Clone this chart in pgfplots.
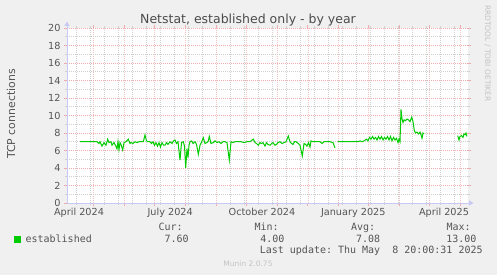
\documentclass[border=0pt]{standalone}
\usepackage{fontspec}
\setmainfont{DejaVu Sans}
\setmonofont{DejaVu Sans Mono}
\usepackage{pgfplots}
\pgfplotsset{compat=1.18}
\usetikzlibrary{arrows.meta}
\definecolor{bg}{RGB}{240,240,240}
\definecolor{mgrid}{RGB}{238,172,172}
\definecolor{mgridx}{RGB}{245,195,195}
\definecolor{sgrid}{RGB}{208,208,208}
\definecolor{axiscol}{RGB}{200,200,245}
\definecolor{txt}{RGB}{85,85,85}
\definecolor{titlecol}{RGB}{75,75,75}
\definecolor{faint}{RGB}{195,195,195}
\definecolor{series}{RGB}{0,204,0}

\pgfplotstableread{
x y
80 7.0
97 7.0
99 6.8
100 7.0
102 6.5
104 6.9
106 6.6
107.7 7.3
109 6.9
111 7.0
112 6.6
114 6.9
115 6.7
117 6.2
118 7.0
119 6.1
120 6.9
121 6.7
122.7 6.05
124 6.9
126 7.0
128.3 7.3
130 6.8
131 6.9
133 6.8
135 7.0
137 6.9
139 7.0
143.3 7.0
145 7.77
146.5 7.1
148 7.0
150 7.0
151.5 6.8
153 7.0
154.5 6.6
156 6.9
157.5 6.5
159 6.9
160.5 6.4
162 6.9
163.5 6.6
165 6.6
166.5 6.9
168 6.7
170 7.0
172 6.8
173.5 7.1
175 7.2
176.5 6.8
178 7.0
180 4.9
181.5 6.9
183.3 7.0
184.5 6.5
185.7 4.03
187 6.2
188 5.2
189 6.6
190 7.0
191.7 7.1
193 6.8
195 7.0
196.5 6.7
198.3 5.56
200 6.6
201.7 7.0
203.3 7.46
205 6.8
206.7 6.9
208 7.0
209.3 7.6
211 6.8
213.3 6.9
215 7.1
217 6.9
219 7.0
221 6.8
223 7.0
225 7.0
227 6.9
229.3 4.9
231 7.0
233 6.9
235 7.0
238 7.0
241 7.0
244 6.9
247 7.0
250 7.0
253.3 7.3
255 6.9
256.5 6.8
258.3 6.6
260 6.9
261.5 6.8
263 6.9
265 6.5
266.5 6.9
268 6.7
270 6.6
271.7 6.8
273 6.9
275 6.6
276.5 6.7
278 6.9
280 7.0
282 6.8
284 6.9
286 7.0
288.3 7.66
290 7.0
291.5 6.8
293 6.7
294.5 7.0
296 7.0
298.3 6.8
300 6.6
302.3 5.37
304 6.8
305.5 6.7
307 6.5
308.5 6.9
310 6.4
311 7.1
313 7.0
315 7.0
318 7.0
320 7.0
322 6.8
324 7.0
327 7.0
330 7.0
333 6.9
335 6.3
336 nan
337.7 7.0
345 7.0
352 7.0
358 7.0
360 7.1
362 7.0
364 7.1
366.7 7.3
368 7.1
369.5 7.5
371 7.3
372.5 7.6
374 7.3
375.5 7.5
377 7.2
378.5 7.6
380 7.3
381.5 7.6
383 7.2
384.5 7.5
386 7.3
387.5 7.6
389 7.2
390.5 7.6
392 7.1
393.5 7.5
395 7.2
396.5 7.4
398 6.9
399 7.3
400 7.0
401 10.7
402 9.6
403 9.2
404 9.5
405.5 9.4
407 9.6
408.5 9.5
410 9.3
411.7 9.8
413 9.3
414.3 8.3
415.5 8.0
417 8.1
418.5 7.9
420 8.1
421 7.8
422 7.4
423 8.0
424 7.9
425 nan
457.7 7.7
459 7.2
460 7.6
461.5 7.7
463 7.5
464 7.9
465 7.8
466 8.0
467 7.6
}\established

\begin{document}
\begin{tikzpicture}[x=1pt,y=1pt]
\fill[bg] (0,0) rectangle (497,275);
\path[use as bounding box] (0,0) rectangle (497,275);
\begin{axis}[
  at={(67pt,72pt)}, anchor=south west,
  scale only axis, width=401pt, height=175pt,
  xmin=67, xmax=468, ymin=0, ymax=20,
  axis line style={draw=none},
  axis background/.style={fill=white},
  xtick={93.3,124.3,154.6,185.3,216,246.7,277.3,307.8,338,368.5,399.5,429.5,460},
  xticklabels={},
  minor xtick={76,90,104,118,132,146,160,174,188,202,230,244,258,272,286,300,314,328,342,356,370,384,398,412,426,440,454},
  extra x ticks={79,170.2,262,353.3,444},
  extra x tick labels={April 2024,July 2024,October 2024,January 2025,April 2025},
  extra x tick style={grid=none, major tick length=0pt, xticklabel style={yshift=-1.5pt}},
  ytick={0,2,...,20},
  minor ytick={1,3,...,19},
  grid=both,
  major grid style={mgrid, dash pattern=on 0.8pt off 1.2pt, line width=0.7pt},
  major x grid style={mgridx, dash pattern=on 0.8pt off 1.2pt, line width=0.6pt},
  minor grid style={sgrid, dash pattern=on 0.8pt off 1.2pt, line width=0.7pt},
  tick align=outside,
  major tick length=3pt, minor tick length=2pt,
  major tick style={mgrid, line width=0.7pt},
  minor tick style={sgrid, line width=0.7pt},
  ticklabel style={font=\fontsize{9.7}{11}\selectfont, text=txt},
  /pgf/number format/assume math mode=true,
]
\addplot[series, line width=1pt, unbounded coords=jump, mark=none] table[x=x, y=y] {\established};
\end{axis}
% axes with arrows
\draw[axiscol, line width=0.8pt, -{Triangle[length=4.5pt,width=5pt]}] (67,72) -- (473.5,72);
\draw[axiscol, line width=0.8pt, -{Triangle[length=4.5pt,width=5pt]}] (67,72) -- (67,253.5);
% title
\node[anchor=base, inner sep=0pt, font=\fontsize{12.5}{14}\selectfont, text=titlecol] at (248,251) {Netstat, established only - by year};
% y label
\node[rotate=90, anchor=base, inner sep=0pt, font=\fontsize{10.9}{12}\selectfont, text=txt] at (15,161) {TCP connections};
% side text
\node[rotate=-90, anchor=base, inner sep=0pt, font=\fontsize{7.5}{8}\selectfont, text=faint] at (485,221.6) {RRDTOOL / TOBI OETIKER};
% legend
\fill[series] (14,32.3) rectangle (20.5,38.8);
\begin{scope}[every node/.style={anchor=base west, inner sep=0pt, font=\ttfamily\fontsize{10}{11}\selectfont, text=txt}]
\node at (25.4,32.3) {established};
\node at (158.4,44.3) {Cur:};
\node at (164.3,32.3) {7.60};
\node at (254.3,44.3) {Min:};
\node at (260.1,32.3) {4.00};
\node at (350.9,44.3) {Avg:};
\node at (355.9,32.3) {7.08};
\node at (446.3,44.3) {Max:};
\node at (446.2,32.3) {13.00};
\node[anchor=base east] at (482.8,21) {Last update: Thu May\ \ 8 20:00:31 2025};
\end{scope}
\node[anchor=base, inner sep=0pt, font=\fontsize{7.5}{8}\selectfont, text=faint] at (248,8.3) {Munin 2.0.75};
\end{tikzpicture}
\end{document}
